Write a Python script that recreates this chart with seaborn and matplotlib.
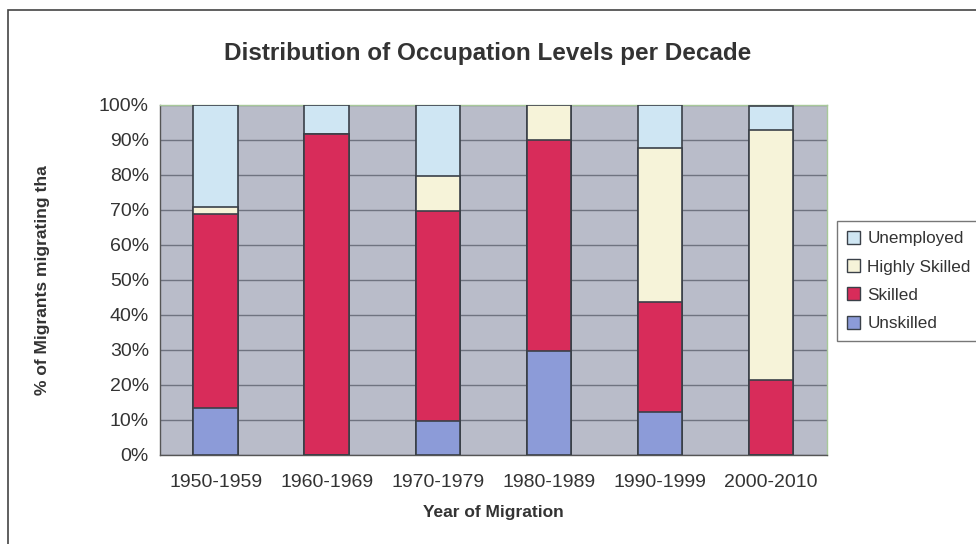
import pandas as pd
import seaborn as sns
import matplotlib.pyplot as plt
from matplotlib.patches import Rectangle, Patch

# Dados (percentual por década)
decadas = ['1950-1959', '1960-1969', '1970-1979', '1980-1989', '1990-1999', '2000-2010']
niveis = ['Unskilled', 'Skilled', 'Highly Skilled', 'Unemployed']
unskilled = [13.4, 0.0, 9.6, 29.6, 12.3, 0.0]
skilled = [55.4, 91.6, 60.2, 60.3, 31.4, 21.5]
highly_skilled = [2.1, 0.0, 9.9, 10.1, 43.9, 71.3]
unemployed = [29.1, 8.4, 20.3, 0.0, 12.4, 7.0]

cores = {
    'Unskilled': '#8c9bd8',
    'Skilled': '#d82c5a',
    'Highly Skilled': '#f6f3d9',
    'Unemployed': '#cfe6f3',
}

dados = pd.DataFrame({
    'decada': decadas,
    'Unskilled': unskilled,
    'Skilled': skilled,
    'Highly Skilled': highly_skilled,
    'Unemployed': unemployed,
})

# Acumulado para empilhar (desenha do topo para a base)
acumulado = dados[niveis].cumsum(axis=1)

sns.set_style('white')
plt.rcParams['font.family'] = ['Liberation Sans', 'DejaVu Sans']
texto = '#333333'

fig = plt.figure(figsize=(9.76, 5.44), dpi=100)
ax = fig.add_axes([0.164, 0.164, 0.683, 0.643])
ax.set_facecolor('#b9bcc9')

for nivel in reversed(niveis):
    sns.barplot(x=dados['decada'], y=acumulado[nivel], color=cores[nivel], width=0.4,
                edgecolor='#3a4048', linewidth=1.2, saturation=1, ax=ax, zorder=3)

ax.set_ylim(0, 100)
ax.set_xlim(-0.5, len(decadas) - 0.5)
ax.set_yticks(range(0, 101, 10))
ax.set_yticklabels([f'{v}%' for v in range(0, 101, 10)], fontsize=14, color=texto)
ax.set_xticks(range(len(decadas)))
ax.set_xticklabels(decadas, fontsize=14, color=texto)
ax.set_xticks([i + 0.5 for i in range(-1, len(decadas))], minor=True)
ax.tick_params(axis='x', which='major', length=0, pad=14)
ax.tick_params(axis='x', which='minor', length=5, color='#555555', direction='out')
ax.tick_params(axis='y', length=5, color='#555555', direction='out', pad=3)
ax.yaxis.grid(True, color='#6f7380', linewidth=1, zorder=1)
ax.set_axisbelow(True)

for lado in ['left', 'bottom']:
    ax.spines[lado].set_color('#555555')
    ax.spines[lado].set_linewidth(1)
for lado in ['top', 'right']:
    ax.spines[lado].set_color('#a8c89a')
    ax.spines[lado].set_linewidth(1)

ax.set_xlabel('Year of Migration', fontsize=12.5, fontweight='bold', color=texto, labelpad=10)
ax.set_ylabel('% of Migrants migrating tha', fontsize=12.5, fontweight='bold', color=texto, labelpad=0)
ax.yaxis.set_label_coords(-0.165, 0.5)

fig.suptitle('Distribution of Occupation Levels per Decade', x=0.5, y=0.922,
             fontsize=17.5, fontweight='bold', color=texto)

# Legenda na ordem do original (topo para base)
handles = [Patch(facecolor=cores[n], edgecolor='#3a4048', linewidth=1) for n in reversed(niveis)]
leg = fig.legend(handles, list(reversed(niveis)), loc='upper left',
                 bbox_to_anchor=(0.858, 0.593), fontsize=12.3, frameon=True,
                 fancybox=False, edgecolor='#555555', handlelength=0.8, handleheight=0.8,
                 handletextpad=0.4, labelspacing=0.75, borderpad=0.55, borderaxespad=0,
                 labelcolor=texto)
leg.get_frame().set_linewidth(1)

# Moldura externa do gráfico
fig.patches.append(Rectangle((0.008, -0.01), 1.1, 0.992, transform=fig.transFigure,
                             fill=False, edgecolor='#444444', linewidth=1.2))

fig.savefig('out.png', dpi=100)
